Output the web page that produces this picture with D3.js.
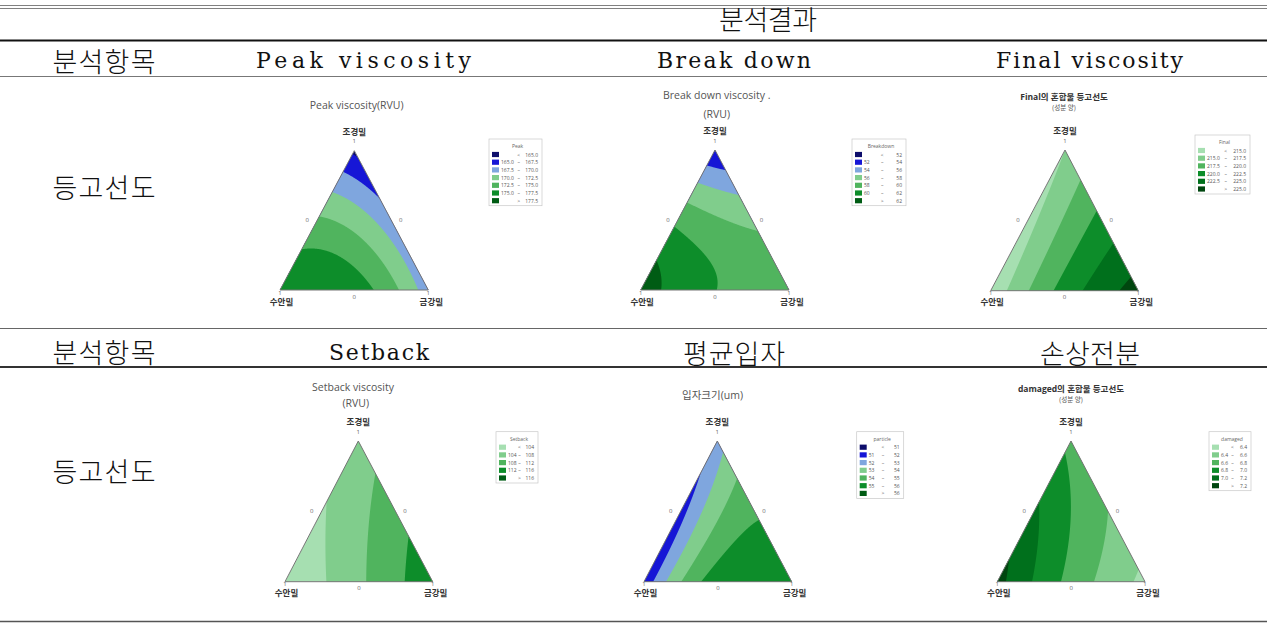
<!DOCTYPE html>
<html><head><meta charset="utf-8">
<script src="https://cdn.jsdelivr.net/npm/d3@7"></script>
<style>body{margin:0;background:#fff}svg{display:block}</style>
</head><body><svg id="c" width="1267" height="623"></svg>
<script>
// ---------------- DATA ----------------
const headerTitle = "분석결과";
const rowLabel = "분석항목";
const plotRowLabel = "등고선도";
const columnNamesRow1 = ["Peak viscosity", "Break down", "Final viscosity"];
const columnNamesRow2 = ["Setback", "평균입자", "손상전분"];
const components = ["조경밀", "수안밀", "금강밀"];   // top, bottom-left, bottom-right
const vertexTick = "1", edgeTick = "0";

// values at design points: [top vertex, left vertex, right vertex, mid top-left, mid top-right, mid left-right]
const peakValues      = [164.5, 176.7, 168.5, 172.85, 168.3, 176.35];
const breakdownValues = [52.0, 63.0, 59.0, 59.5, 57.5, 60.05];
const finalValues     = [215.0, 213.0, 226.0, 214.0, 220.75, 221.0];
const setbackValues   = [106.0, 100.0, 115.0, 103.6, 110.4, 107.25];
const particleValues  = [52.5, 51.2, 55.2, 51.55, 54.85, 55.575];
const damagedValues   = [6.75, 7.27, 6.35, 7.035, 6.6, 6.735];

// contour levels (legend tick labels)
const peakLevels      = [165.0, 167.5, 170.0, 172.5, 175.0, 177.5];
const breakdownLevels = [52, 54, 56, 58, 60, 62];
const finalLevels     = [215.0, 217.5, 220.0, 222.5, 225.0];
const setbackLevels   = [104, 108, 112, 116];
const particleLevels  = [51, 52, 53, 54, 55, 56];
const damagedLevels   = [6.4, 6.6, 6.8, 7.0, 7.2];

const legendTitles = ["Peak", "Breakdown", "Final", "Setback", "particle", "damaged"];
const plotTitles = [
  ["Peak viscosity(RVU)"],
  ["Break down viscosity .", "(RVU)"],
  ["Final의 혼합물 등고선도", "(성분 양)"],
  ["Setback viscosity", "(RVU)"],
  ["입자크기(um)"],
  ["damaged의 혼합물 등고선도", "(성분 양)"]
];

// ---------------- STYLE / LAYOUT ----------------
const blueScheme  = ["#0d0d6b", "#1616d6", "#7fa6de", "#80cd8c", "#50b45e", "#0d8d2a", "#005c14"];
const greenScheme = ["#a6dfb1", "#80cd8c", "#50b45e", "#0d8d2a", "#00701c", "#00460f"];
const setbackScheme = ["#a6dfb1", "#80cd8c", "#50b45e", "#0d8d2a", "#005e16"];

const svg = d3.select("#c");
const KR = "'Noto Sans CJK KR', 'Noto Sans', sans-serif";
const LAT = "'DejaVu Serif', 'Liberation Serif', serif";
const UI = "'Open Sans', 'Noto Sans', 'Noto Sans CJK KR', sans-serif";

// table rules
const rules = [
  {y: 5.5, w: 1, c: "#808080"}, {y: 8.5, w: 1, c: "#808080"},
  {y: 40.5, w: 2.2, c: "#111"}, {y: 76.5, w: 1, c: "#777"},
  {y: 328.5, w: 1, c: "#666"}, {y: 367, w: 2, c: "#333"},
  {y: 621.5, w: 1.3, c: "#555"}
];
svg.selectAll("line.rule").data(rules).join("line").attr("class", "rule")
  .attr("x1", 0).attr("x2", 1267).attr("y1", d => d.y).attr("y2", d => d.y)
  .attr("stroke", d => d.c).attr("stroke-width", d => d.w);

function cellText(text, cx, cy, width, latin) {
  svg.append("text").attr("x", cx).attr("y", cy)
    .attr("text-anchor", "middle").attr("dominant-baseline", "central")
    .attr("font-family", latin ? LAT : KR).attr("font-weight", latin ? 400 : 300)
    .attr("font-size", latin ? 22 : 27).attr("fill", "#111")
    .attr("textLength", width).attr("lengthAdjust", "spacing")
    .text(text);
}
cellText(headerTitle, 768, 18, 98, false);
cellText(rowLabel, 104, 60, 103, false);
cellText(rowLabel, 104, 351, 103, false);
cellText(plotRowLabel, 104, 186, 103, false);
cellText(plotRowLabel, 104, 470, 103, false);
const row1Pos = [[363.5, 215], [734, 154], [1089.5, 187]];
const row2Pos = [[379, 100], [734, 102], [1090, 100]];
columnNamesRow1.forEach((t, i) => cellText(t, row1Pos[i][0], 60, row1Pos[i][1], true));
columnNamesRow2.forEach((t, i) => cellText(t, row2Pos[i][0], 352, row2Pos[i][1], !/[가-힣]/.test(t)));

// plot layouts
const plots = [
  {values: peakValues, levels: peakLevels, colors: blueScheme, fmt: ".1f",
   geom: {ax: 354.3, ay: 150.7, by: 290, lx: 280, rx: 428.3},
   titles: [{x: 356.7, y: 105, s: 10.5, b: 400}],
   legend: {x: 489, y: 139, w: 53}},
  {values: breakdownValues, levels: breakdownLevels, colors: blueScheme, fmt: "d",
   geom: {ax: 715, ay: 150, by: 290, lx: 640.7, rx: 789},
   titles: [{x: 716.7, y: 95, s: 10.5, b: 400}, {x: 716.7, y: 113.5, s: 10.5, b: 400}],
   legend: {x: 852, y: 139, w: 54}},
  {values: finalValues, levels: finalLevels, colors: greenScheme, fmt: ".1f",
   geom: {ax: 1065, ay: 150, by: 290.7, lx: 990.7, rx: 1138.3},
   titles: [{x: 1064, y: 96.7, s: 8.5, b: 700}, {x: 1064, y: 107.3, s: 6.5, b: 400}],
   legend: {x: 1195, y: 135, w: 55}},
  {values: setbackValues, levels: setbackLevels, colors: setbackScheme, fmt: "d",
   geom: {ax: 358.3, ay: 441, by: 581.7, lx: 285, rx: 432.7},
   titles: [{x: 353, y: 386.7, s: 10.5, b: 400}, {x: 355.7, y: 403.3, s: 10.5, b: 400}],
   legend: {x: 496, y: 431.7, w: 42}},
  {values: particleValues, levels: particleLevels, colors: blueScheme, fmt: "d",
   geom: {ax: 717.3, ay: 441, by: 581.7, lx: 644, rx: 791.7},
   titles: [{x: 712.5, y: 395, s: 10.5, b: 400}],
   legend: {x: 856.7, y: 431.7, w: 47}},
  {values: damagedValues, levels: damagedLevels, colors: greenScheme, fmt: ".1f",
   geom: {ax: 1071, ay: 441, by: 581.7, lx: 997.3, rx: 1145},
   titles: [{x: 1071, y: 388.3, s: 8.5, b: 700}, {x: 1071, y: 399.3, s: 6.5, b: 400}],
   legend: {x: 1209, y: 431.7, w: 42}}
];

plots.forEach((p, idx) => {
  const g = svg.append("g");
  const {ax, ay, by, lx, rx} = p.geom;
  const [v1, v2, v3, m12, m13, m23] = p.values;
  const b12 = 4 * m12 - 2 * (v1 + v2), b13 = 4 * m13 - 2 * (v1 + v3), b23 = 4 * m23 - 2 * (v2 + v3);
  const model = (t1, t2, t3) => v1 * t1 + v2 * t2 + v3 * t3 + b12 * t1 * t2 + b13 * t1 * t3 + b23 * t2 * t3;

  const res = 0.5;
  const gx0 = Math.floor(lx) - 2, gx1 = Math.ceil(rx) + 2, gy0 = Math.floor(ay) - 2, gy1 = Math.ceil(by) + 2;
  const nx = Math.ceil((gx1 - gx0) / res) + 1, ny = Math.ceil((gy1 - gy0) / res) + 1;
  const grid = new Float64Array(nx * ny);
  for (let j = 0; j < ny; j++) {
    const py = gy0 + j * res;
    const t1 = (by - py) / (by - ay);
    for (let i = 0; i < nx; i++) {
      const px = gx0 + i * res;
      const t3 = (px - t1 * ax - (1 - t1) * lx) / (rx - lx);
      const t2 = 1 - t1 - t3;
      grid[j * nx + i] = model(t1, t2, t3);
    }
  }
  const contours = d3.contours().size([nx, ny]).thresholds(p.levels)(grid);
  const path = d3.geoPath(d3.geoTransform({
    point(x, y) { this.stream.point(gx0 + (x - 0.5) * res, gy0 + (y - 0.5) * res); }
  }));
  const color = d3.scaleThreshold().domain(p.levels).range(p.colors);
  const tri = [[ax, ay], [lx, by], [rx, by]];
  const clipId = "clip" + idx;
  g.append("clipPath").attr("id", clipId).append("polygon").attr("points", tri.join(" "));
  const cg = g.append("g").attr("clip-path", `url(#${clipId})`);
  cg.append("polygon").attr("points", tri.join(" ")).attr("fill", p.colors[0]);
  cg.selectAll("path").data(contours).join("path")
    .attr("d", path).attr("fill", d => color(d.value));
  g.append("polygon").attr("points", tri.join(" ")).attr("fill", "none")
    .attr("stroke", "#757575").attr("stroke-width", 1);

  // titles
  p.titles.forEach((t, k) => {
    g.append("text").attr("x", t.x).attr("y", t.y).attr("text-anchor", "middle")
      .attr("dominant-baseline", "central").attr("font-family", UI)
      .attr("font-size", t.s).attr("font-weight", t.b)
      .attr("fill", t.b === 700 ? "#333" : "#555").text(plotTitles[idx][k]);
  });

  // component labels & ticks
  const lab = (txt, x, y, size, weight, fill) => g.append("text").attr("x", x).attr("y", y)
    .attr("text-anchor", "middle").attr("dominant-baseline", "central")
    .attr("font-family", UI).attr("font-size", size).attr("font-weight", weight)
    .attr("fill", fill).text(txt);
  lab(components[0], ax, ay - 19.5, 8.5, 700, "#333");
  lab(components[1], lx + 1.5, by + 11, 8.5, 700, "#333");
  lab(components[2], rx + 3, by + 11, 8.5, 700, "#333");
  lab(vertexTick, ax, ay - 9.5, 6, 400, "#666");
  lab(vertexTick, lx, by + 2.5, 6, 400, "#666");
  lab(vertexTick, rx, by + 2.5, 6, 400, "#666");
  lab(edgeTick, (lx + rx) / 2, by + 6.5, 6, 400, "#666");
  lab(edgeTick, (lx + ax) / 2 - 10, (ay + by) / 2, 6, 400, "#666");
  lab(edgeTick, (rx + ax) / 2 + 9.5, (ay + by) / 2, 6, 400, "#666");

  // legend
  const L = p.legend, f = d3.format(p.fmt), lv = p.levels;
  const rows = [["", "<", f(lv[0])]];
  for (let k = 0; k < lv.length - 1; k++) rows.push([f(lv[k]), "–", f(lv[k + 1])]);
  rows.push(["", ">", f(lv[lv.length - 1])]);
  const rowStep = 7.7, firstRow = 15.5;
  const hgt = firstRow + rowStep * (rows.length - 1) + 5;
  const lg = g.append("g");
  lg.append("rect").attr("x", L.x).attr("y", L.y).attr("width", L.w).attr("height", hgt)
    .attr("fill", "#fff").attr("stroke", "#c8c8c8").attr("stroke-width", 0.7);
  lg.append("text").attr("x", L.x + L.w / 2 + 2).attr("y", L.y + 7).attr("text-anchor", "middle")
    .attr("dominant-baseline", "central").attr("font-family", UI).attr("font-size", 5)
    .attr("fill", "#666").text(legendTitles[idx]);
  rows.forEach((r, k) => {
    const y = L.y + firstRow + k * rowStep;
    lg.append("rect").attr("x", L.x + 3).attr("y", y - 2.6).attr("width", 7).attr("height", 5.2)
      .attr("fill", p.colors[k]);
    const t = (txt, x, anchor) => lg.append("text").attr("x", x).attr("y", y)
      .attr("text-anchor", anchor).attr("dominant-baseline", "central")
      .attr("font-family", UI).attr("font-size", 5).attr("fill", "#555").text(txt);
    t(r[0], L.x + 12, "start");
    t(r[1], L.x + L.w * 0.56, "middle");
    t(r[2], L.x + L.w - 4, "end");
  });
});
</script></body></html>
